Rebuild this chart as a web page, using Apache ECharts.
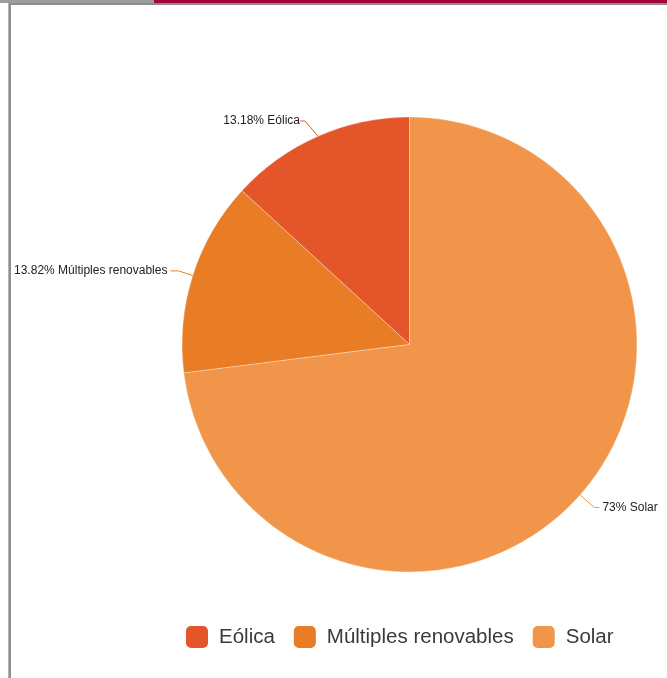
<!DOCTYPE html>
<html>
<head>
<meta charset="utf-8">
<title>Renovables</title>
<script src="https://cdn.jsdelivr.net/npm/echarts@6/dist/echarts.min.js"></script>
<style>
  html, body { margin: 0; padding: 0; background: #fff; }
  body { width: 667px; height: 678px; position: relative; overflow: hidden; }
  #bar-gray { position: absolute; left: 0; top: 0; width: 154px; height: 3px; background: #9c9ca1; }
  #bar-red { position: absolute; left: 154px; top: 0; width: 513px; height: 3px; background: #a5063a; }
  #bar-line { position: absolute; left: 8px; top: 3px; width: 659px; height: 2px; background: #8b8b90; }
  #frame-left { position: absolute; left: 8px; top: 3px; width: 3px; height: 675px; background: #8d8d92; border-left: 1px solid #b4b4b8; box-sizing: border-box; }
  #chart { position: absolute; left: 0; top: 0; width: 667px; height: 678px; }
</style>
</head>
<body>
<div id="bar-gray"></div>
<div id="bar-red"></div>
<div id="bar-line"></div>
<div id="frame-left"></div>
<div id="chart"></div>
<script>
// Share of projects by renewable technology (%)
const categories = ['Eólica', 'Múltiples renovables', 'Solar'];
const shares = [13.18, 13.82, 73];
const shareLabels = ['13.18%', '13.82%', '73%'];
const colors = ['#e4562a', '#e87d26', '#f09549'];

// Per-slice leader line lengths
const lineLengths = [[0, 5], [15, 8], [19, 5]];

const chart = echarts.init(document.getElementById('chart'), null, { renderer: 'canvas' });

const pieData = categories.map((name, i) => ({
  name: name,
  value: shares[i],
  itemStyle: { color: colors[i] },
  labelLine: { length: lineLengths[i][0], length2: lineLengths[i][1] }
}));

chart.setOption({
  animation: false,
  legend: {
    data: categories,
    orient: 'horizontal',
    left: 179,
    top: 619,
    icon: 'roundRect',
    itemWidth: 24,
    itemHeight: 24,
    itemGap: 17,
    textStyle: {
      fontFamily: 'Liberation Sans, Arial, sans-serif',
      fontSize: 20.5,
      color: '#3a3a3a',
      padding: [0, 0, 0, 5]
    }
  },
  series: [{
    type: 'pie',
    center: [409.5, 344.5],
    radius: 227.5,
    startAngle: 90,
    clockwise: false,
    avoidLabelOverlap: false,
    emphasis: { disabled: true },
    itemStyle: { borderColor: '#ffffff', borderWidth: 0.3 },
    data: pieData,
    label: {
      show: true,
      position: 'outside',
      distanceToLabelLine: 3,
      fontFamily: 'Liberation Sans, Arial, sans-serif',
      fontSize: 12,
      color: '#222',
      formatter: p => shareLabels[p.dataIndex] + ' ' + p.name
    },
    labelLine: {
      show: true,
      smooth: false,
      lineStyle: { width: 1 }
    },
    labelLayout: function (params) {
      // The wind label sits beside the top of the pie, clear of its slice
      if (params.dataIndex === 0) {
        return { x: 300, y: 121, align: 'right', verticalAlign: 'middle' };
      }
      return {};
    }
  }]
});
</script>
</body>
</html>
